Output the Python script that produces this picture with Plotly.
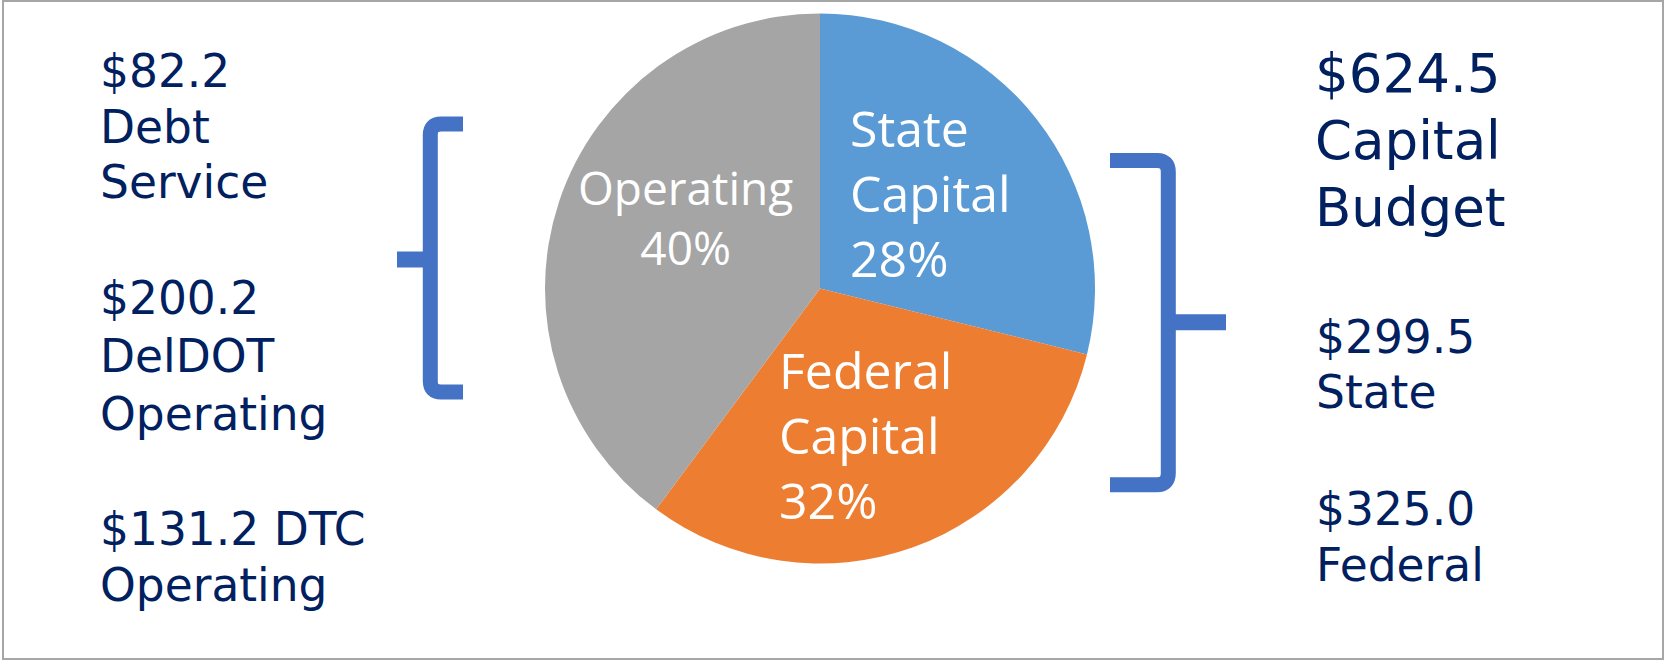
import plotly.graph_objects as go

# ---------------- data ----------------
slice_labels = ["State Capital", "Federal Capital", "Operating"]
capital_parts = [299.5, 325.0]            # State, Federal ($ millions)
operating_parts = [82.2, 200.2, 131.2]    # Debt Service, DelDOT Operating, DTC Operating
capital_total = 624.5
slice_pct_text = ["28%", "32%", "40%"]
slice_colors = ["#5B9BD5", "#ED7D31", "#A5A5A5"]

slice_values = [capital_parts[0], capital_parts[1], round(sum(operating_parts), 1)]

left_groups = [
    [f"${operating_parts[0]:.1f}", "Debt", "Service"],
    [f"${operating_parts[1]:.1f}", "DelDOT", "Operating"],
    [f"${operating_parts[2]:.1f} DTC", "Operating"],
]
right_title = [f"${capital_total:.1f}", "Capital", "Budget"]
right_groups = [
    [f"${capital_parts[0]:.1f}", "State"],
    [f"${capital_parts[1]:.1f}", "Federal"],
]
slice_text = [
    f"State<br>Capital<br>{slice_pct_text[0]}",
    f"Federal<br>Capital<br>{slice_pct_text[1]}",
    f"Operating<br>{slice_pct_text[2]}",
]

# ---------------- layout helpers ----------------
W, H = 1666, 660
NAVY = "#002060"
BRACE = "#4472C4"
SIDE_FONT = "DejaVu Sans"
PIE_FONT = "Open Sans"
DJ_ASC = 0.928
OS_ASC = 1.069


def X(px):
    return px / W


def Y(py):
    return 1 - py / H


def note(text, left_px, baseline_px, size, family, color, asc, align="left",
         xanchor="left", lsb=0.08):
    top = baseline_px - 2 - asc * size
    xa = left_px - 2 - lsb * size if xanchor == "left" else left_px
    return dict(x=X(xa), y=Y(top), xref="paper", yref="paper",
                xanchor=xanchor, yanchor="top", align=align, showarrow=False,
                text=text, font=dict(family=family, size=size, color=color))


def block(lines, left_px, first_baseline, spacing, size):
    return [note(t, left_px, first_baseline + i * spacing, size, SIDE_FONT, NAVY, DJ_ASC,
                 lsb=0.085)
            for i, t in enumerate(lines)]


# pie geometry (pixels)
cx, cy, R = 820, 288.5, 275

fig = go.Figure()
fig.add_trace(go.Pie(
    labels=slice_labels,
    values=slice_values,
    sort=False,
    direction="clockwise",
    rotation=0,
    marker=dict(colors=slice_colors, line=dict(width=0)),
    textinfo="none",
    hoverinfo="label+value+percent",
    showlegend=False,
    domain=dict(x=[X(cx - R), X(cx + R)], y=[Y(cy + R), Y(cy - R)]),
))

annotations = []
SIDE = 45.5
# left column
annotations += block(left_groups[0], 103.6, 87.5, 55.3, SIDE)
annotations += block(left_groups[1], 103.6, 314, 58, SIDE)
annotations += block(left_groups[2], 103.6, 545, 56.5, SIDE)
# right column
annotations += block(right_title, 1320, 92, 67, 53)
annotations += block(right_groups[0], 1320, 353, 55, SIDE)
annotations += block(right_groups[1], 1320, 525.5, 55.5, SIDE)

# slice labels
annotations.append(note(slice_text[0], 852, 147, 50, PIE_FONT, "white", OS_ASC, lsb=0.05))
annotations.append(note(slice_text[1], 783, 389, 50, PIE_FONT, "white", OS_ASC, lsb=0.09))
annotations.append(note(slice_text[2], 685, 205, 46, PIE_FONT, "white", OS_ASC,
                        align="center", xanchor="center"))


def brace_path(cmds):
    out = []
    for c in cmds:
        if isinstance(c, str):
            out.append(c)
        else:
            out.append(f"{X(c[0]):.5f},{Y(c[1]):.5f}")
    return " ".join(out)


shapes = []
# outer frame
shapes.append(dict(type="rect", xref="paper", yref="paper",
                   x0=X(3), x1=X(1663), y0=Y(659), y1=Y(1),
                   line=dict(color="#A6A6A6", width=2), fillcolor="rgba(0,0,0,0)"))

# left brace  "{"
lx = 430.3
shapes.append(dict(type="path", xref="paper", yref="paper",
                   path=brace_path(["M", (463, 124), "L", (441, 124), "Q", (lx, 124), (lx, 135),
                                    "L", (lx, 381), "Q", (lx, 392), (441, 392), "L", (463, 392)]),
                   line=dict(color=BRACE, width=15)))
shapes.append(dict(type="path", xref="paper", yref="paper",
                   path=brace_path(["M", (lx, 259.5), "L", (397, 259.5)]),
                   line=dict(color=BRACE, width=16)))

# right brace  "}"
rx = 1168.3
shapes.append(dict(type="path", xref="paper", yref="paper",
                   path=brace_path(["M", (1110, 160.5), "L", (1157, 160.5), "Q", (rx, 160.5), (rx, 172),
                                    "L", (rx, 473), "Q", (rx, 484.7), (1157, 484.7), "L", (1110, 484.7)]),
                   line=dict(color=BRACE, width=15)))
shapes.append(dict(type="path", xref="paper", yref="paper",
                   path=brace_path(["M", (rx, 322.3), "L", (1226, 322.3)]),
                   line=dict(color=BRACE, width=16)))

fig.update_layout(
    width=W, height=H,
    margin=dict(l=0, r=0, t=0, b=0),
    paper_bgcolor="white",
    plot_bgcolor="white",
    annotations=annotations,
    shapes=shapes,
    showlegend=False,
)

fig.write_html("out.html",
               config={"displayModeBar": False},
               post_script="document.body.style.margin='0px';document.body.style.overflow='hidden';")
